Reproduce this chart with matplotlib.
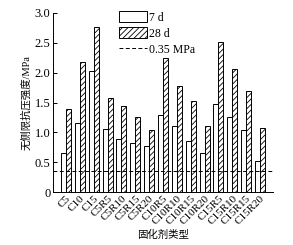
import matplotlib
matplotlib.use("Agg")
import matplotlib.pyplot as plt
import numpy as np

categories = ["C5", "C10", "C15", "C5R5", "C5R10", "C5R15", "C5R20",
              "C10R5", "C10R10", "C10R15", "C10R20",
              "C15R5", "C15R10", "C15R15", "C15R20"]
d7 = [0.66, 1.15, 2.03, 1.06, 0.89, 0.82, 0.77,
      1.29, 1.10, 0.85, 0.66, 1.47, 1.25, 1.04, 0.52]
d28 = [1.40, 2.18, 2.76, 1.57, 1.45, 1.26, 1.04,
       2.24, 1.78, 1.52, 1.10, 2.51, 2.06, 1.70, 1.07]
threshold = 0.35
yticks = [0, 0.5, 1.0, 1.5, 2.0, 2.5, 3.0]
ytick_labels = ["0", "0.5", "1.0", "1.5", "2.0", "2.5", "3.0"]

plt.rcParams['font.family'] = ['Liberation Serif', 'Noto Sans CJK SC']
plt.rcParams['hatch.linewidth'] = 0.6

fig = plt.figure(figsize=(2.93, 2.45), dpi=100)
ax = fig.add_axes([0.181, 0.216, 0.751, 0.731])

x = np.arange(len(categories))
w = 0.36
b1 = ax.bar(x - w / 2, d7, w, facecolor='white', edgecolor='black', linewidth=0.7, label='7 d')
b2 = ax.bar(x + w / 2, d28, w, facecolor='white', edgecolor='black', linewidth=0.7,
            hatch='//////', label='28 d')
ln = ax.axhline(threshold, color='black', linestyle=(0, (4, 2.5)), linewidth=0.7, label='0.35 MPa')

ax.set_xlim(-0.94, 14.94)
ax.set_ylim(0, 3.0)
ax.set_yticks(yticks)
ax.set_yticklabels(ytick_labels, fontsize=9)
ax.set_xticks(x)
ax.set_xticklabels(categories, rotation=45, ha='right', rotation_mode='anchor', fontsize=8)
ax.tick_params(axis='y', direction='in', length=3, width=0.7, pad=2)
ax.tick_params(axis='x', length=0, pad=1)
for s in ['top', 'right']:
    ax.spines[s].set_visible(False)
for s in ['left', 'bottom']:
    ax.spines[s].set_linewidth(0.7)
ax.axvline(14.94, ymin=0, ymax=0.025, color='black', linewidth=0.7)

ax.set_ylabel('无侧限抗压强度/MPa', fontsize=7.5, labelpad=2)
ax.set_xlabel('固化剂类型', fontsize=7.5, labelpad=3)

ax.legend([b1, b2, ln], ['7 d', '28 d', '0.35 MPa'],
          loc='upper left', bbox_to_anchor=(0.28, 1.035), frameon=False, fontsize=8.5,
          handlelength=2.3, handleheight=1.0, handletextpad=0.2, labelspacing=0.3,
          borderaxespad=0)

fig.savefig('out.png', dpi=100)
